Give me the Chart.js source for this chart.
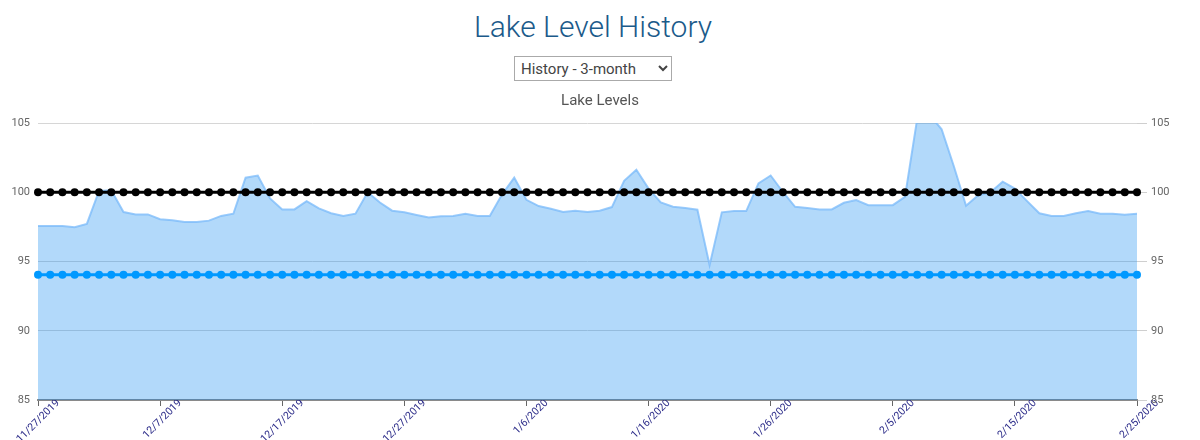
<!DOCTYPE html>
<html>
<head>
<meta charset="utf-8">
<title>Lake Level History</title>
<script src="https://cdn.jsdelivr.net/npm/chart.js@4.4.1/dist/chart.umd.min.js"></script>
<style>
  body { margin: 0; background: #fff; font-family: Roboto, "Open Sans", sans-serif; }
  h1 {
    position: absolute; top: 9px; left: 0; width: 1186px; margin: 0;
    text-align: center; font-weight: 300; font-size: 30px; color: #1b5a8a;
  }
  .picker { position: absolute; top: 56px; left: 514px; }
  .picker select {
    width: 158px; height: 25px; font-family: Roboto, sans-serif; font-size: 15px;
    color: #444; border: 1px solid #aaa; background: #fff; padding: 0 2px;
  }
  #wrap { position: absolute; top: 86px; left: 0; width: 1200px; height: 354px; }
</style>
</head>
<body>
<h1>Lake Level History</h1>
<div class="picker">
  <select><option>History - 3-month</option><option>History - 1-year</option></select>
</div>
<div id="wrap"><canvas id="lakeChart"></canvas></div>
<script>
  // days shown on the x axis
  const dias = [
    '11/27/2019', '11/28/2019', '11/29/2019', '11/30/2019',
    '12/1/2019', '12/2/2019', '12/3/2019', '12/4/2019', '12/5/2019', '12/6/2019', '12/7/2019',
    '12/8/2019', '12/9/2019', '12/10/2019', '12/11/2019', '12/12/2019', '12/13/2019', '12/14/2019',
    '12/15/2019', '12/16/2019', '12/17/2019', '12/18/2019', '12/19/2019', '12/20/2019', '12/21/2019',
    '12/22/2019', '12/23/2019', '12/24/2019', '12/25/2019', '12/26/2019', '12/27/2019', '12/28/2019',
    '12/29/2019', '12/30/2019', '12/31/2019',
    '1/1/2020', '1/2/2020', '1/3/2020', '1/4/2020', '1/5/2020', '1/6/2020', '1/7/2020',
    '1/8/2020', '1/9/2020', '1/10/2020', '1/11/2020', '1/12/2020', '1/13/2020', '1/14/2020',
    '1/15/2020', '1/16/2020', '1/17/2020', '1/18/2020', '1/19/2020', '1/20/2020', '1/21/2020',
    '1/22/2020', '1/23/2020', '1/24/2020', '1/25/2020', '1/26/2020', '1/27/2020', '1/28/2020',
    '1/29/2020', '1/30/2020', '1/31/2020',
    '2/1/2020', '2/2/2020', '2/3/2020', '2/4/2020', '2/5/2020', '2/6/2020', '2/7/2020',
    '2/8/2020', '2/9/2020', '2/10/2020', '2/11/2020', '2/12/2020', '2/13/2020', '2/14/2020',
    '2/15/2020', '2/16/2020', '2/17/2020', '2/18/2020', '2/19/2020', '2/20/2020', '2/21/2020',
    '2/22/2020', '2/23/2020', '2/24/2020', '2/25/2020'
  ];

  // only these dates get a label + tick mark
  const rotulosX = ['11/27/2019', '12/7/2019', '12/17/2019', '12/27/2019', '1/6/2020',
                    '1/16/2020', '1/26/2020', '2/5/2020', '2/15/2020', '2/25/2020'];

  // measured lake level (ft)
  const nivelLago = [
    97.57, 97.57, 97.57, 97.48, 97.71, 100.1, 100.15, 98.57, 98.4, 98.4,
    98.05, 97.98, 97.86, 97.86, 97.95, 98.29, 98.45, 101.05, 101.2, 99.55,
    98.76, 98.76, 99.36, 98.83, 98.48, 98.29, 98.45, 100.0, 99.26, 98.67,
    98.55, 98.36, 98.17, 98.26, 98.29, 98.45, 98.29, 98.29, 99.83, 101.05,
    99.45, 99.0, 98.81, 98.57, 98.67, 98.57, 98.67, 98.93, 100.83, 101.62,
    100.26, 99.26, 98.95, 98.86, 98.74, 94.74, 98.55, 98.64, 98.64, 100.64,
    101.21, 100.02, 98.95, 98.86, 98.76, 98.76, 99.24, 99.43, 99.07, 99.07,
    99.07, 99.67, 105.3, 105.6, 104.55, 101.88, 99.02, 99.79, 100.0, 100.76,
    100.26, 99.36, 98.48, 98.29, 98.29, 98.48, 98.64, 98.45, 98.45, 98.38,
    98.45
  ];

  // full pool reference line
  const nivelCheio = [
    100, 100, 100, 100, 100, 100, 100, 100, 100, 100,
    100, 100, 100, 100, 100, 100, 100, 100, 100, 100,
    100, 100, 100, 100, 100, 100, 100, 100, 100, 100,
    100, 100, 100, 100, 100, 100, 100, 100, 100, 100,
    100, 100, 100, 100, 100, 100, 100, 100, 100, 100,
    100, 100, 100, 100, 100, 100, 100, 100, 100, 100,
    100, 100, 100, 100, 100, 100, 100, 100, 100, 100,
    100, 100, 100, 100, 100, 100, 100, 100, 100, 100,
    100, 100, 100, 100, 100, 100, 100, 100, 100, 100,
    100
  ];

  // lower reference line
  const nivelMinimo = [
    94.05, 94.05, 94.05, 94.05, 94.05, 94.05, 94.05, 94.05, 94.05, 94.05,
    94.05, 94.05, 94.05, 94.05, 94.05, 94.05, 94.05, 94.05, 94.05, 94.05,
    94.05, 94.05, 94.05, 94.05, 94.05, 94.05, 94.05, 94.05, 94.05, 94.05,
    94.05, 94.05, 94.05, 94.05, 94.05, 94.05, 94.05, 94.05, 94.05, 94.05,
    94.05, 94.05, 94.05, 94.05, 94.05, 94.05, 94.05, 94.05, 94.05, 94.05,
    94.05, 94.05, 94.05, 94.05, 94.05, 94.05, 94.05, 94.05, 94.05, 94.05,
    94.05, 94.05, 94.05, 94.05, 94.05, 94.05, 94.05, 94.05, 94.05, 94.05,
    94.05, 94.05, 94.05, 94.05, 94.05, 94.05, 94.05, 94.05, 94.05, 94.05,
    94.05, 94.05, 94.05, 94.05, 94.05, 94.05, 94.05, 94.05, 94.05, 94.05,
    94.05
  ];

  const yMin = 85, yMax = 105, yStep = 5;

  Chart.defaults.font.family = 'Roboto, "Open Sans", sans-serif';
  Chart.defaults.animation = false;

  const mostrar = i => rotulosX.includes(dias[i]);

  new Chart(document.getElementById('lakeChart'), {
    type: 'line',
    data: {
      labels: dias,
      datasets: [
        {
          label: 'Full Pool',
          data: nivelCheio,
          borderColor: '#000',
          backgroundColor: '#000',
          borderWidth: 3,
          pointRadius: 4,
          pointBackgroundColor: '#000',
          pointBorderWidth: 0,
          fill: false,
          order: 1
        },
        {
          label: 'Minimum',
          data: nivelMinimo,
          borderColor: '#0099ff',
          backgroundColor: '#0099ff',
          borderWidth: 3,
          pointRadius: 4,
          pointBackgroundColor: '#0099ff',
          pointBorderWidth: 0,
          fill: false,
          order: 2
        },
        {
          label: 'Lake Level',
          data: nivelLago,
          borderColor: 'rgba(120,185,250,0.75)',
          backgroundColor: 'rgba(0,130,240,0.3)',
          borderWidth: 2,
          pointRadius: 0,
          tension: 0,
          fill: 'start',
          order: 3
        }
      ]
    },
    options: {
      responsive: true,
      maintainAspectRatio: false,
      layout: { padding: 0 },
      plugins: {
        legend: { display: false },
        tooltip: { enabled: false },
        title: {
          display: true,
          text: 'Lake Levels',
          color: '#555',
          font: { size: 15, weight: 'normal' },
          padding: { top: 6, bottom: 13 }
        }
      },
      scales: {
        x: {
          offset: false,
          grid: {
            drawOnChartArea: false,
            drawTicks: true,
            tickLength: 6,
            tickColor: ctx => mostrar(ctx.index) ? '#666' : 'rgba(0,0,0,0)'
          },
          border: { display: true, color: '#8a8a8a', width: 2 },
          ticks: {
            autoSkip: false,
            minRotation: 45,
            maxRotation: 45,
            labelOffset: 20,
            padding: -9,
            color: '#2a2a88',
            font: { size: 10.5 },
            callback: function(val, i) { return mostrar(i) ? dias[i] : ''; }
          },
          afterFit: s => { s.height = 40; }
        },
        y: {
          position: 'left',
          min: yMin,
          max: yMax,
          border: { display: false },
          grid: { color: '#d6d6d6', drawTicks: false },
          ticks: { stepSize: yStep, color: '#666', font: { size: 11 }, padding: 8 },
          afterFit: s => { s.width = 38; }
        },
        y1: {
          position: 'right',
          min: yMin,
          max: yMax,
          border: { display: false },
          grid: { drawOnChartArea: false, drawTicks: true, tickLength: 10, color: '#cfcfcf' },
          ticks: { stepSize: yStep, color: '#666', font: { size: 11 }, padding: 4 },
          afterFit: s => { s.width = 63; }
        }
      }
    }
  });
</script>
</body>
</html>
